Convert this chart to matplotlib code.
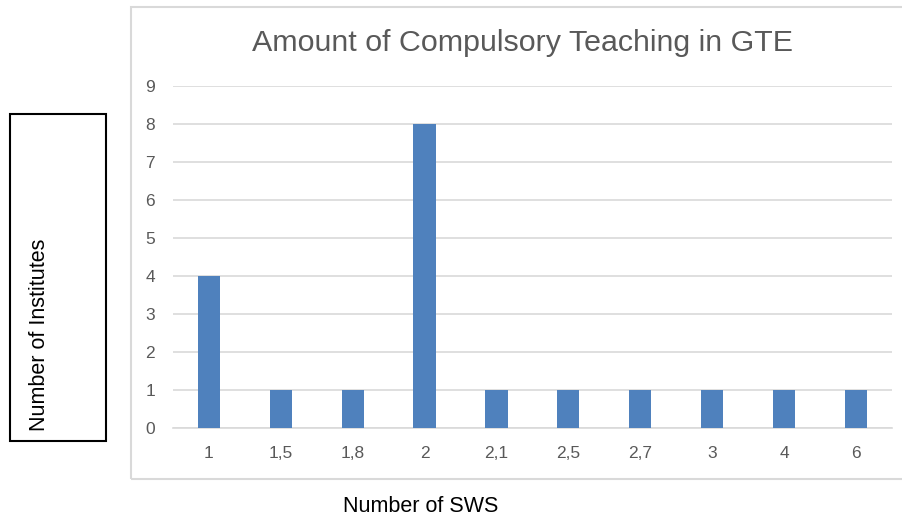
import matplotlib.pyplot as plt
from matplotlib.patches import Rectangle

plt.rcParams['font.family'] = ['Liberation Sans', 'DejaVu Sans']

# dados
categorias = ["1", "1,5", "1,8", "2", "2,1", "2,5", "2,7", "3", "4", "6"]
institutos = [4, 1, 1, 8, 1, 1, 1, 1, 1, 1]

cinza = "#595959"
grade = "#d9d9d9"

fig = plt.figure(figsize=(9.03, 5.17), dpi=100)
ax = fig.add_axes([0.1916, 0.1721, 0.796, 0.6615])

pos = range(len(categorias))
ax.bar(pos, institutos, width=0.31, color="#4f81bd", zorder=3)

ax.set_xlim(-0.5, len(categorias) - 0.5)
ax.set_ylim(0, 9)
ax.set_yticks(range(0, 10))
ax.set_xticks(list(pos))
ax.set_xticklabels(categorias)
ax.grid(axis='y', color=grade, linewidth=1.2, zorder=0)
for s in ["top", "right", "left"]:
    ax.spines[s].set_visible(False)
ax.spines["bottom"].set_color(grade)
ax.spines["bottom"].set_linewidth(1.2)
ax.tick_params(length=0, labelsize=12.5, labelcolor=cinza)
ax.tick_params(axis='y', pad=13)
ax.tick_params(axis='x', pad=13)

# título do gráfico
fig.text(0.579, 1 - 43 / 517, "Amount of Compulsory Teaching in GTE",
         ha='center', va='center', fontsize=21.9, color=cinza)

# borda da área do gráfico
fig.patches.append(Rectangle((131 / 903, 1 - 479 / 517), 0.9, (479 - 7) / 517,
                             transform=fig.transFigure, fill=False,
                             edgecolor=grade, linewidth=1.5))

# caixa do rótulo do eixo y
fig.patches.append(Rectangle((10 / 903, 1 - 441 / 517), 96 / 903, (441 - 114) / 517,
                             transform=fig.transFigure, fill=False,
                             edgecolor="black", linewidth=1.5))
fig.text(40 / 903, 1 - 335 / 517, "Number of Institutes", rotation=90,
         ha='center', va='center', fontsize=15.5, color="black")

fig.text(421 / 903, 1 - 506 / 517, "Number of SWS",
         ha='center', va='center', fontsize=15.5, color="black")

fig.savefig("out.png", dpi=100)
